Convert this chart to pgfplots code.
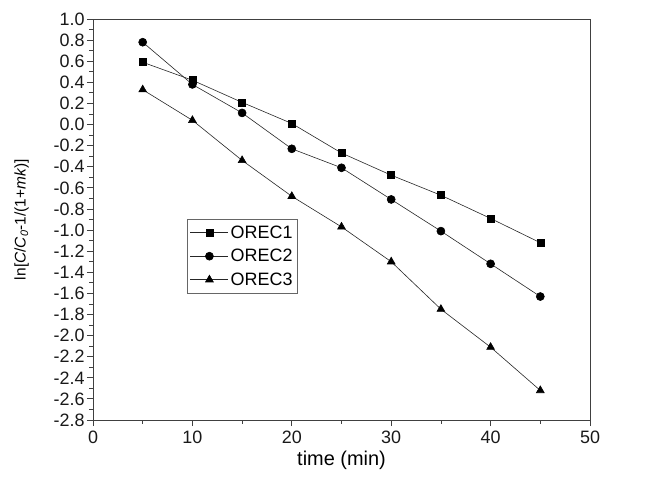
\documentclass[border=0pt]{standalone}
\usepackage{pgfplots}
\pgfplotsset{compat=1.18}
\usepackage{fontspec}
\setmainfont{Liberation Sans}
\begin{document}
\begin{tikzpicture}
\useasboundingbox (-93bp,-62bp) rectangle (552bp,420bp);
\begin{axis}[
  at={(0,0)}, anchor=south west,
  scale only axis, width=497bp, height=401bp,
  xmin=0, xmax=50, ymin=-2.8, ymax=1.0,
  xtick={0,10,...,50}, minor xtick={5,15,...,45},
  ytick={-2.8,-2.6,...,1.01}, minor ytick={-2.7,-2.5,...,0.95},
  tick pos=left, tick align=outside,
  major tick length=6bp, minor tick length=3.5bp,
  axis line style={black!75, line width=0.9bp},
  every tick/.style={black!75, line width=0.8bp},
  tick label style={font=\fontsize{18}{20}\selectfont, black!90},
  xticklabel style={yshift=-1bp},
  yticklabel style={xshift=1bp},
  /pgf/number format/assume math mode=true,
  yticklabel style={/pgf/number format/.cd, fixed, fixed zerofill, precision=1},
  xlabel={time (min)},
  xlabel style={font=\fontsize{20}{22}\selectfont, yshift=-1bp},
  ylabel={ln[\textit{C}/\textit{C}\textsubscript{\textit{0}}-1/(1+\textit{mk})]},
  ylabel style={font=\fontsize{15.5}{18}\selectfont, yshift=18bp},
  legend style={at={(0.189,0.50)}, anchor=north west, draw=black!60, font=\fontsize{18}{21}\selectfont, row sep=5.5bp, inner xsep=3bp, inner ysep=4bp},
  legend cell align=left,
  legend image code/.code={\draw[mark repeat=2,mark phase=2] plot coordinates {(0bp,0bp) (19bp,0bp) (38bp,0bp)};},
]
\addplot[black!85, line width=0.6bp, mark=square*, mark size=3.5bp, mark options={fill=black, draw=black, solid}] coordinates {
(5,0.59) (10,0.42) (15,0.21) (20,0.01) (25,-0.27) (30,-0.48) (35,-0.67) (40,-0.89) (45,-1.12)};
\addlegendentry{OREC1}
\addplot[black!85, line width=0.6bp, mark=*, mark size=4bp, mark options={fill=black, draw=black, solid}] coordinates {
(5,0.78) (10,0.38) (15,0.11) (20,-0.23) (25,-0.41) (30,-0.71) (35,-1.01) (40,-1.32) (45,-1.63)};
\addlegendentry{OREC2}
\addplot[black!85, line width=0.6bp, mark=triangle*, mark size=4.5bp, mark options={fill=black, draw=black, solid}] coordinates {
(5,0.33) (10,0.04) (15,-0.34) (20,-0.68) (25,-0.97) (30,-1.30) (35,-1.75) (40,-2.11) (45,-2.52)};
\addlegendentry{OREC3}
\end{axis}
\end{tikzpicture}
\end{document}
